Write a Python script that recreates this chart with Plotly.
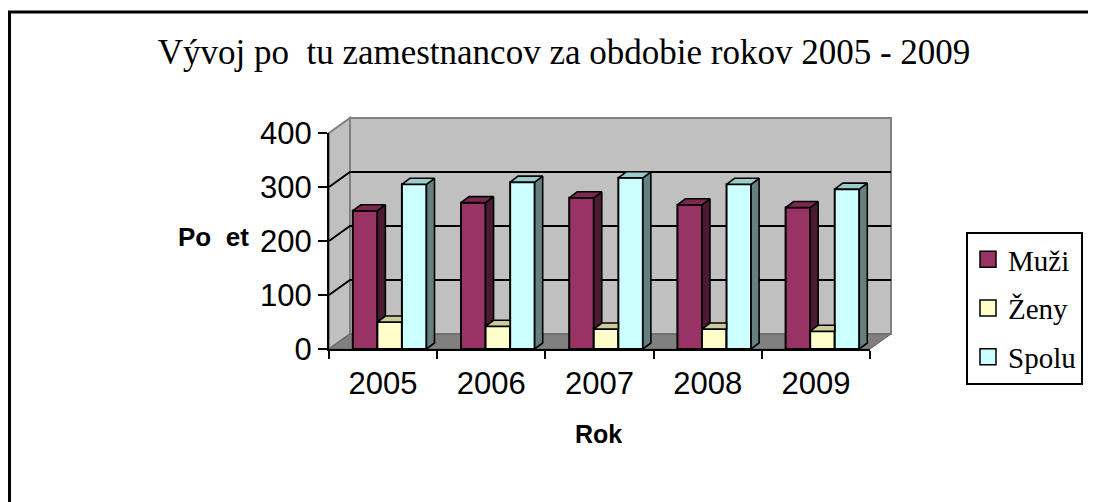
import plotly.graph_objects as go

# ---------------- data ----------------
years = ["2005", "2006", "2007", "2008", "2009"]
series_names = ["Muži", "Ženy", "Spolu"]
muzi = [256, 271, 280, 267, 262]
zeny = [50, 42, 37, 37, 33]
spolu = [305, 309, 317, 305, 296]
y_ticks = [0, 100, 200, 300, 400]

title_text = "Vývoj po  tu zamestnancov za obdobie rokov 2005 - 2009"
y_title = "Po  et"
x_title = "Rok"

# ---------------- styling ----------------
front_col = ["#993366", "#ffffcc", "#ccffff"]
top_col = ["#7a2952", "#cccc99", "#99cccc"]
side_col = ["#4d1a33", "#808066", "#668080"]

OFF = 8                      # page body margin of the browser
W, H = 1096 - OFF, 502 - OFF


def fx(x):                   # window px -> figure px
    return x - OFF


PL, PR, PT, PB = fx(329), fx(870), fx(133), fx(349)   # plot area (figure px)
YMAX = 400
px_per_unit_x = (PR - PL) / len(years)
px_per_unit_y = (PB - PT) / YMAX

BAR_W = 0.227
OFFS = [-0.28, -0.28 + BAR_W, -0.28 + 2 * BAR_W]
DX = 8 / px_per_unit_x       # bar depth (x data units)
DY = 6 / px_per_unit_y       # bar depth (y data units)


def pxx(x):                  # window px -> paper x
    return (fx(x) - PL) / (PR - PL)


def pyy(y):                  # window px -> paper y
    return (PB - fx(y)) / (PB - PT)


WDX, WDY = 21, 15  # wall depth in px
wdx = WDX / (PR - PL)
wdy = WDY / (PB - PT)

fig = go.Figure()

vals = [muzi, zeny, spolu]
xs = list(range(len(years)))

# front faces
for k in range(3):
    fig.add_trace(go.Bar(
        x=xs, y=vals[k], width=BAR_W, offset=OFFS[k],
        marker=dict(color=front_col[k], line=dict(color="black", width=2)),
        showlegend=False, hoverinfo="skip", name=series_names[k]))


def poly_trace(polys, color):
    xx, yy = [], []
    for p in polys:
        for (a, b) in p:
            xx.append(a)
            yy.append(b)
        xx.append(p[0][0])
        yy.append(p[0][1])
        xx.append(None)
        yy.append(None)
    return go.Scatter(x=xx, y=yy, mode="lines", fill="toself", fillcolor=color,
                      line=dict(color="black", width=1.6), showlegend=False,
                      hoverinfo="skip")


side_m, top_m = [], []
top_z = []
side_s, top_s = [], []
for i in xs:
    L = i + OFFS[0]
    R = L + BAR_W
    M = muzi[i]
    Z = zeny[i]
    S = spolu[i]
    side_m.append([(R, Z), (R + DX, Z + DY), (R + DX, M + DY), (R, M)])
    top_m.append([(L, M), (R, M), (R + DX, M + DY), (L + DX, M + DY)])
    Lz = i + OFFS[1]
    Rz = Lz + BAR_W
    top_z.append([(Lz, Z), (Rz, Z), (Rz, Z + DY), (Lz + DX, Z + DY)])
    Ls = i + OFFS[2]
    Rs = Ls + BAR_W
    side_s.append([(Rs, 0), (Rs + DX, DY), (Rs + DX, S + DY), (Rs, S)])
    top_s.append([(Ls, S), (Rs, S), (Rs + DX, S + DY), (Ls + DX, S + DY)])

fig.add_trace(poly_trace(side_m, side_col[0]))
fig.add_trace(poly_trace(top_m, top_col[0]))
fig.add_trace(poly_trace(top_z, top_col[1]))
fig.add_trace(poly_trace(side_s, side_col[2]))
fig.add_trace(poly_trace(top_s, top_col[2]))

# legend-only entries
for k in range(3):
    fig.add_trace(go.Scatter(
        x=[None], y=[None], mode="markers", name=series_names[k],
        legendgroup=series_names[k],
        marker=dict(symbol="square", size=16, color=front_col[k],
                    line=dict(color="black", width=1.5))))

# ---------------- walls, floor, gridlines ----------------
shapes = []
shapes.append(dict(type="rect", xref="paper", yref="paper", layer="below",
                   x0=wdx, x1=1 + wdx, y0=wdy, y1=1 + wdy,
                   fillcolor="#c0c0c0", line=dict(color="#808080", width=2)))
shapes.append(dict(type="path", xref="paper", yref="paper", layer="below",
                   path=f"M0,0 L{wdx},{wdy} L{wdx},{1 + wdy} L0,1 Z",
                   fillcolor="#c0c0c0", line=dict(color="#808080", width=2)))
shapes.append(dict(type="path", xref="paper", yref="paper", layer="below",
                   path=f"M0,0 L1,0 L{1 + wdx},{wdy} L{wdx},{wdy} Z",
                   fillcolor="#808080", line=dict(color="#606060", width=1)))
for v in y_ticks[1:-1]:
    f = v / YMAX
    shapes.append(dict(type="path", xref="paper", yref="paper", layer="below",
                       path=f"M0,{f} L{wdx},{f + wdy} L{1 + wdx},{f + wdy}",
                       line=dict(color="black", width=2)))
# outer frame
shapes.append(dict(type="rect", xref="paper", yref="paper", layer="below",
                   x0=pxx(9.5), x1=pxx(1091), y0=pyy(515), y1=pyy(12),
                   line=dict(color="black", width=3), fillcolor="rgba(0,0,0,0)"))

fig.update_layout(
    width=W, height=H,
    margin=dict(l=PL, r=W - PR, t=PT, b=H - PB, pad=0),
    paper_bgcolor="white", plot_bgcolor="rgba(0,0,0,0)",
    barmode="overlay",
    shapes=shapes,
    title=dict(text=title_text, x=fx(564) / W, xanchor="center",
               y=1 - fx(52) / H, yanchor="middle",
               font=dict(family="Liberation Serif", size=35, color="black")),
    xaxis=dict(range=[-0.5, len(years) - 0.5], tickmode="array",
               tickvals=xs, ticktext=years, ticks="outside", ticklen=6,
               tickcolor="rgba(0,0,0,0)",
               showline=True, linecolor="black", linewidth=2,
               showgrid=False, zeroline=False,
               tickfont=dict(family="Liberation Sans", size=31, color="black"),
               minor=dict(tickmode="array",
                          tickvals=[i - 0.5 for i in range(len(years) + 1)],
                          ticks="outside", ticklen=8, tickwidth=2,
                          tickcolor="black", showgrid=False)),
    yaxis=dict(range=[0, YMAX], tickmode="array", tickvals=y_ticks,
               ticks="outside", ticklen=9, tickwidth=2, tickcolor="black",
               showline=True, linecolor="black", linewidth=2,
               showgrid=False, zeroline=False,
               tickfont=dict(family="Liberation Sans", size=31, color="black")),
    legend=dict(x=pxx(966), xanchor="left", y=pyy(232), yanchor="top",
                bordercolor="black", borderwidth=2, bgcolor="white",
                font=dict(family="Liberation Serif", size=29, color="black"),
                tracegroupgap=8, itemsizing="trace"),
    annotations=[
        dict(text=f"<b>{y_title}</b>", xref="paper", yref="paper",
             x=pxx(213), y=pyy(237), showarrow=False, xanchor="center",
             yanchor="middle",
             font=dict(family="Liberation Sans", size=26, color="black")),
        dict(text=f"<b>{x_title}</b>", xref="paper", yref="paper",
             x=pxx(598), y=pyy(434), showarrow=False, xanchor="center",
             yanchor="middle",
             font=dict(family="Liberation Sans", size=25, color="black")),
    ],
)

fig.write_html("out.html")
